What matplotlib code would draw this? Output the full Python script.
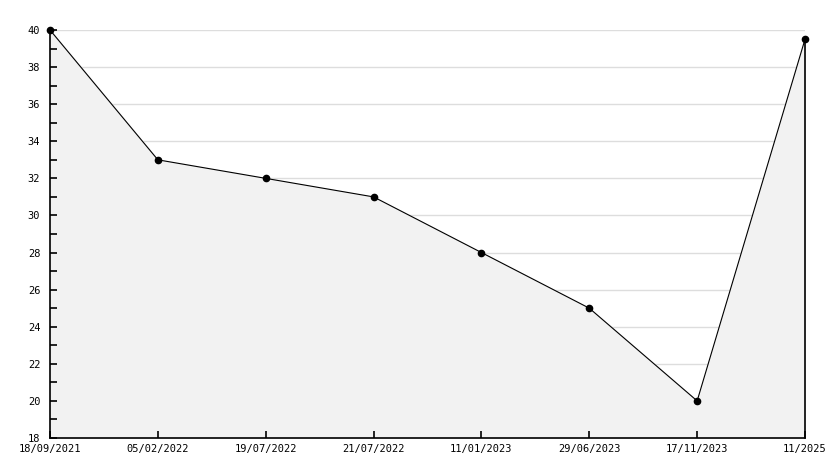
import matplotlib
matplotlib.use('Agg')
import matplotlib.pyplot as plt
import numpy as np

# data
dates = ['18/09/2021', '05/02/2022', '19/07/2022', '21/07/2022',
         '11/01/2023', '29/06/2023', '17/11/2023', '11/2025']
values = [40, 33, 32, 31, 28, 25, 20, 39.5]

x = np.arange(len(dates))
yticks = np.arange(18, 41, 2)

fig = plt.figure(figsize=(8.34, 4.68), dpi=100)
ax = fig.add_axes([50 / 834, 30 / 468, 755 / 834, 408 / 468])

# grid under the area fill
ax.hlines(yticks[1:], 0, len(dates) - 1, color='#dddddd', linewidth=1, zorder=0)
ax.fill_between(x, values, 18, color='#f2f2f2', zorder=1)
ax.plot(x, values, color='black', linewidth=0.8, zorder=3, clip_on=False)
ax.plot(x, values, linestyle='none', color='black', marker='o', markersize=4.5,
        zorder=4, clip_on=False)
# right edge of the area
ax.plot([x[-1], x[-1]], [18, values[-1]], color='black', linewidth=1.2, zorder=3,
        clip_on=False)

ax.set_xlim(0, len(dates) - 1)
ax.set_ylim(18, 40)
ax.set_yticks(yticks)
ax.set_yticks(np.arange(19, 40, 2), minor=True)
ax.set_xticks(x)
ax.set_xticklabels(dates)
ax.set_axisbelow(False)

for s in ['top', 'right']:
    ax.spines[s].set_visible(False)
for s in ['left', 'bottom']:
    ax.spines[s].set_linewidth(1.2)
    ax.spines[s].set_zorder(5)

ax.tick_params(axis='both', which='major', direction='in', length=5, width=1.2,
               labelsize=7.5, pad=4)
ax.tick_params(axis='y', which='minor', direction='in', length=5, width=1.2)
ax.tick_params(axis='y', pad=7)
for lbl in ax.get_xticklabels() + ax.get_yticklabels():
    lbl.set_fontfamily('DejaVu Sans Mono')

plt.savefig('out.png', dpi=100)
